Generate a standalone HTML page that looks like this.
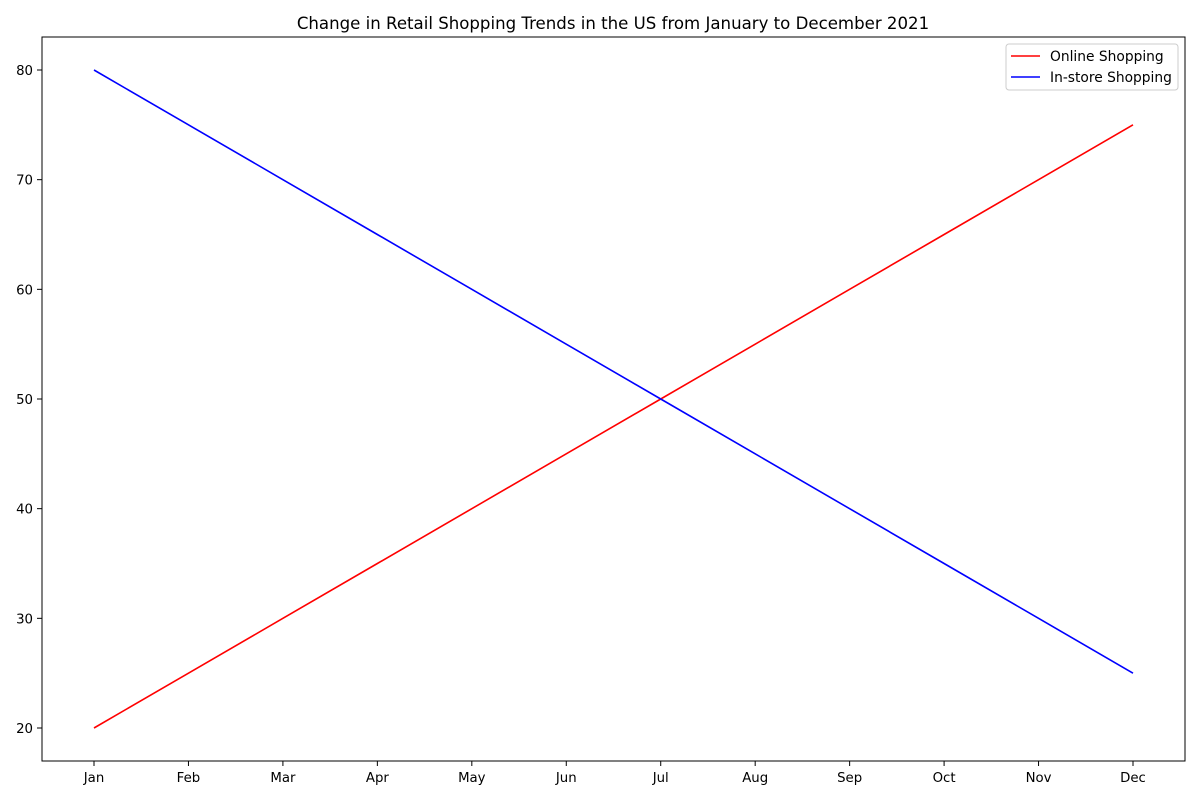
<!DOCTYPE html>
<html><head><meta charset="utf-8"><style>
html,body{margin:0;padding:0;background:#fff;}
svg{display:block;font-family:"DejaVu Sans","Liberation Sans",sans-serif;}
</style></head><body>
<svg id="chart" width="1200" height="800">
<text x="613" y="29" text-anchor="middle" font-size="16.6">Change in Retail Shopping Trends in the US from January to December 2021</text>
<rect x="42" y="37" width="1143" height="724" fill="none" stroke="#000" stroke-width="1"/>
<g id="xticks"></g>
<g id="yticks"></g>
<g id="series"></g>
<g>
<rect x="1006" y="44" width="172" height="46" rx="3" fill="#fff" stroke="#ccc" stroke-width="1"/>
<line x1="1011" y1="56" x2="1040" y2="56" stroke="red" stroke-width="1.5"/>
<text x="1050" y="61" font-size="13.8">Online Shopping</text>
<line x1="1011" y1="77" x2="1040" y2="77" stroke="blue" stroke-width="1.5"/>
<text x="1050" y="82" font-size="13.8">In-store Shopping</text>
</g>
</svg>
<script>
const months = ["Jan","Feb","Mar","Apr","May","Jun","Jul","Aug","Sep","Oct","Nov","Dec"];
const onlineValues = [20,25,30,35,40,45,50,55,60,65,70,75];
const instoreValues = [80,75,70,65,60,55,50,45,40,35,30,25];
const yTickValues = [20,30,40,50,60,70,80];

const NS = "http://www.w3.org/2000/svg";
function xScale(i){ return 94 + i * (1133 - 94) / 11; }
function yScale(v){ return 728 - (v - 20) * (728 - 70) / 60; }
function mk(tag, attrs, parent){
  const e = document.createElementNS(NS, tag);
  for (const k in attrs) e.setAttribute(k, attrs[k]);
  parent.appendChild(e);
  return e;
}
const xg = document.getElementById('xticks');
months.forEach((m, i) => {
  const x = xScale(i);
  const t = mk('line', {x1:x, y1:761, x2:x, y2:766, stroke:'#000'}, xg);
  
  
  const l = mk('text', {x:x, y:782, 'text-anchor':'middle', 'font-size':13.3}, xg);
  l.textContent = m;
  
  
});
const yg = document.getElementById('yticks');
yTickValues.forEach(v => {
  const y = yScale(v);
  const t = mk('line', {x1:37, y1:y, x2:42, y2:y, stroke:'#000'}, yg);
  
  
  const l = mk('text', {x:33, y:y + 5, 'text-anchor':'end', 'font-size':13.3}, yg);
  l.textContent = v;
  
  
});
const sg = document.getElementById('series');
function drawLine(vals, color, name){
  const pts = vals.map((v, i) => xScale(i) + ',' + yScale(v)).join(' ');
  const p = mk('polyline', {points:pts, fill:'none', stroke:color, 'stroke-width':1.6}, sg);
  
  
}
drawLine(onlineValues, 'red', 'online-shopping-line');
drawLine(instoreValues, 'blue', 'instore-shopping-line');
</script>
</body></html>
